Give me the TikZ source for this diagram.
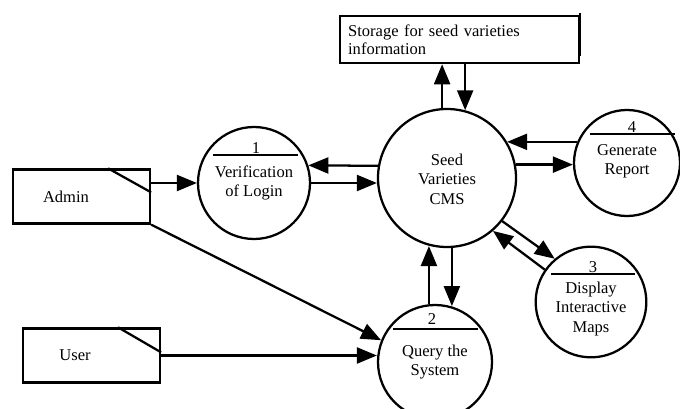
\documentclass[tikz,border=0pt]{standalone}
\usepackage{fontspec}
\setmainfont{Liberation Serif}
\usetikzlibrary{arrows.meta}

\tikzset{every picture/.style={line width=1.7pt}}
\tikzset{
	dfd text/.style={font=\fontsize{12.4}{14.6}\selectfont, align=center, inner sep=0pt},
	process/.style={draw, circle, inner sep=0pt},
	entity/.style={draw, rectangle, minimum width=102.75pt, minimum height=40.5pt},
	datastore/.style={draw, rectangle, anchor=north west, align=left, text width=167pt, inner xsep=6pt, minimum height=35.25pt, font=\fontsize{12.4}{13.5}\selectfont},
	flow/.style={-{Triangle[length=15pt,width=12pt]}}
}

\begin{document}
\begin{tikzpicture}[x=0.75pt,y=0.75pt,yscale=-1,xscale=1]
	\useasboundingbox (0,0) rectangle (680,409);

	%Data store
	\node [datastore] (store) at (339,15) {Storage for seed varieties\\information};
	\draw (store.north east) ++(0,-2) -- ([yshift=-6pt]store.south east);

	%Shape: Ellipse [central process]
	\node [process, minimum size=103.5pt] (cms) at (447,178) {};
	%Shape: Ellipse [process 1]
	\node [process, minimum size=84pt] (p1) at (254,183) {};
	%Shape: Ellipse [process 2]
	\node [process, minimum size=85.5pt] (p2) at (435,362) {};
	%Shape: Ellipse [process 3]
	\node [process, minimum size=83pt] (p3) at (591,302) {};
	%Shape: Ellipse [process 4]
	\node [process, minimum size=79.5pt] (p4) at (627,163) {};

	%Shape: Rectangle [external entities]
	\node [entity] (admin) at (81.5,196.5) {};
	\draw (admin.north east) ++(-43,0) -- ++(43,24);
	\node [entity] (user) at (91.5,355.5) {};
	\draw (user.north east) ++(-43,0) -- ++(43,25);

	%number bars
	\draw (p1.center) ++(-41,-28) -- ++(85,0);
	\draw (p2.center) ++(-42,-33) -- ++(85,0);
	\draw (p3.center) ++(-40,-28) -- ++(84,0);
	\draw (p4.center) ++(-37,-29) -- ++(85,0);

	%flows
	\draw [flow] (cms.94) -- (cms.94 |- store.south);
	\draw [flow] (cms.75 |- store.south) -- (cms.75);
	\draw [flow] (cms.170) -- (p1.18);
	\draw [flow] (p1.east) -- (p1.east -| cms.west);
	\draw [flow] (p4.157) -- (p4.157 -| cms.31);
	\draw [flow] (cms.11) -- (cms.11 -| p4.west);
	\draw [flow] (p3.145) -- (cms.311);
	\draw [flow] (cms.322) -- (p3.130);
	\draw [flow] (p2.96) -- (p2.96 |- cms.256);
	\draw [flow] (cms.274) -- (cms.274 |- p2.74);
	\draw [flow] (p1.west -| admin.east) -- (p1.west);
	\draw [flow] (admin.south east) -- (p2.158);
	\draw [flow] (user.east) -- (user.east -| p2.west);

	% Text Node
	\node [dfd text] (admintxt) at (66,197) {Admin};
	% Text Node
	\node [dfd text] (usertxt) at (75,355) {User};
	% Text Node
	\node [dfd text] (cmstxt) at (447,179) {Seed\\Varieties\\CMS};
	% Text Node
	\node [dfd text] (t1) at (254,183) {Verification\\of Login};
	% Text Node
	\node [dfd text] (t2) at (435,362) {Query the\\System};
	% Text Node
	\node [dfd text] (t3) at (591,309) {Display\\Interactive\\Maps};
	% Text Node
	\node [dfd text] (t4) at (627,161.5) {Generate\\Report};
	% Text Node
	\node [dfd text] (n1) at (256,148) {1};
	% Text Node
	\node [dfd text] (n2) at (432,319) {2};
	% Text Node
	\node [dfd text] (n3) at (593,267) {3};
	% Text Node
	\node [dfd text] (n4) at (632,127) {4};

\end{tikzpicture}
\end{document}
